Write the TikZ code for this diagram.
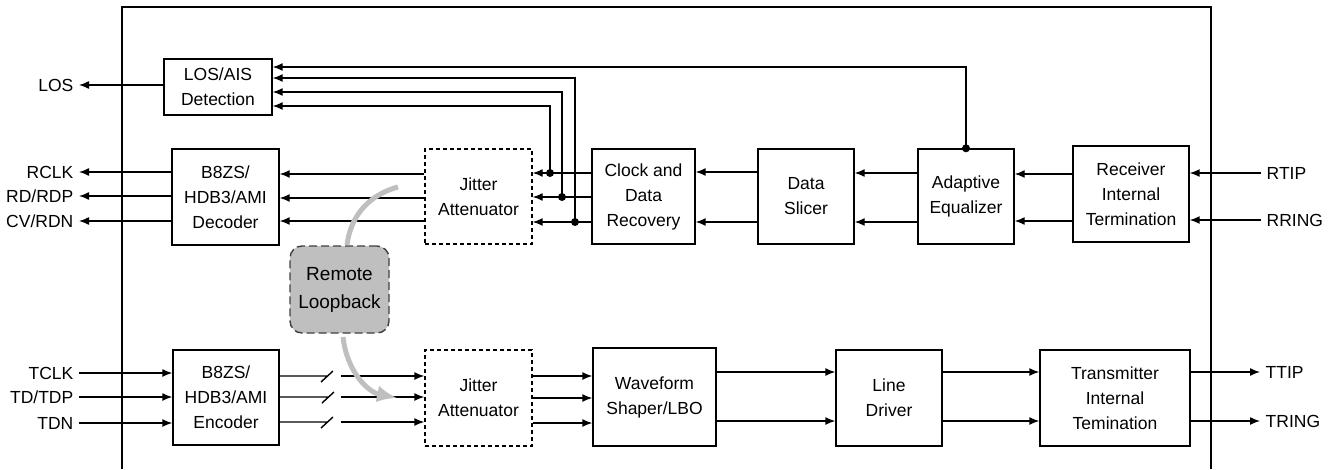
\documentclass[tikz,border=0pt]{standalone}
\usepackage{fontspec}
\setmainfont{Liberation Sans}
\usetikzlibrary{arrows.meta, calc}
\tikzset{sigarrow/.style = {-{Latex[length=10pt,width=8pt]}}}

\begin{document}
\begin{tikzpicture}[
    x=1pt, y=-1pt,
    font=\fontsize{17.5pt}{25pt}\selectfont,
    line width=1.4pt,
    block/.style = {draw, align=center, inner sep=0pt},
    jitter/.style = {block, dash pattern=on 4pt off 3pt},
    pin/.style = {inner sep=5pt, text height=12.5pt, text depth=0pt},
    loopback/.style = {draw=gray!50, line width=5pt}]
    \useasboundingbox (0,0) rectangle (1332,469);
    % chip outline
    \draw (122,469) -- (122,7) -- (1211,7) -- (1211,469);

    % receive path
    \node[block, minimum width=108pt, minimum height=56pt] (los) at (218,87) {LOS/AIS\\Detection};
    \node[block, minimum width=107pt, minimum height=96pt] (dec) at (225.5,197) {B8ZS/\\HDB3/AMI\\Decoder};
    \node[jitter, minimum width=107pt, minimum height=95pt] (rxja) at (478.5,196.5) {Jitter\\Attenuator};
    \node[block, minimum width=103pt, minimum height=95pt] (cdr) at (643.5,196.5) {Clock and\\Data\\Recovery};
    \node[block, minimum width=96pt, minimum height=95pt] (slicer) at (806,196.5) {Data\\Slicer};
    \node[block, minimum width=96pt, minimum height=95pt] (eq) at (966,196.5) {Adaptive\\Equalizer};
    \node[block, minimum width=116pt, minimum height=96pt] (rxterm) at (1131,194) {Receiver\\Internal\\Termination};

    % transmit path
    \node[block, minimum width=106pt, minimum height=95pt] (enc) at (226,397.5) {B8ZS/\\HDB3/AMI\\Encoder};
    \node[jitter, minimum width=107pt, minimum height=96pt] (txja) at (478.5,398) {Jitter\\Attenuator};
    \node[block, minimum width=123pt, minimum height=98pt] (wave) at (654.5,397) {Waveform\\Shaper/LBO};
    \node[block, minimum width=106pt, minimum height=96pt] (ldrv) at (889,398) {Line\\Driver};
    \node[block, minimum width=150pt, minimum height=96pt] (txterm) at (1115,398) {Transmitter\\Internal\\Temination};

    \node[draw=black!75, fill=gray!50, dash pattern=on 8pt off 4pt, rounded corners=12pt,
          font=\fontsize{19pt}{28pt}\selectfont,
          align=center, minimum width=99pt, minimum height=87pt] (remote) at (339.5,289.5) {Remote\\Loopback};

    % pins
    \node[pin, anchor=east] (LOSpin) at (79,85) {LOS};
    \node[pin, anchor=east] (RCLKpin) at (79,172) {RCLK};
    \node[pin, anchor=east] (RDpin) at (79,196) {RD/RDP};
    \node[pin, anchor=east] (CVpin) at (79,221) {CV/RDN};
    \node[pin, anchor=east] (TCLKpin) at (79,373) {TCLK};
    \node[pin, anchor=east] (TDpin) at (79,397) {TD/TDP};
    \node[pin, anchor=east] (TDNpin) at (79,423) {TDN};
    \node[pin, anchor=west] (RTIPpin) at (1261,173) {RTIP};
    \node[pin, anchor=west] (RRINGpin) at (1261,220) {RRING};
    \node[pin, anchor=west] (TTIPpin) at (1260,372) {TTIP};
    \node[pin, anchor=west] (TRINGpin) at (1260,421) {TRING};

    \coordinate (j1) at (550,173);
    \coordinate (j2) at (562,197);
    \coordinate (j3) at (575,222);

    \draw[sigarrow] (RTIPpin) -- (RTIPpin -| rxterm.east);
    \draw[sigarrow] (RRINGpin) -- (RRINGpin -| rxterm.east);
    \draw[sigarrow] (rxterm.west |- 0,174) -- (eq.east |- 0,174);
    \draw[sigarrow] (rxterm.west |- 0,221) -- (eq.east |- 0,221);
    \draw[sigarrow] (eq.west |- 0,173) -- (slicer.east |- 0,173);
    \draw[sigarrow] (eq.west |- 0,222) -- (slicer.east |- 0,222);
    \draw[sigarrow] (slicer.west |- 0,172) -- (cdr.east |- 0,172);
    \draw[sigarrow] (slicer.west |- 0,222) -- (cdr.east |- 0,222);
    \draw[sigarrow] (cdr.west |- j1) -- (rxja.east |- j1);
    \draw[sigarrow] (cdr.west |- j2) -- (rxja.east |- j2);
    \draw[sigarrow] (cdr.west |- j3) -- (rxja.east |- j3);
    \draw[sigarrow] (rxja.west |- 0,174) -- (dec.east |- 0,174);
    \draw[sigarrow] (rxja.west |- 0,198) -- (dec.east |- 0,198);
    \draw[sigarrow] (rxja.west |- 0,221) -- (dec.east |- 0,221);
    \draw[sigarrow] (dec.west |- RCLKpin) -- (RCLKpin);
    \draw[sigarrow] (dec.west |- RDpin) -- (RDpin);
    \draw[sigarrow] (dec.west |- CVpin) -- (CVpin);
    \draw[sigarrow] (los.west |- LOSpin) -- (LOSpin);

    % status lines to LOS/AIS
    \draw[sigarrow] (eq.north) |- (los.east |- 0,67);
    \draw[sigarrow] (j3) |- (los.east |- 0,78);
    \draw[sigarrow] (j2) |- (los.east |- 0,92);
    \draw[sigarrow] (j1) |- (los.east |- 0,106);
    \fill (eq.north) circle (4);
    \fill (j1) circle (4);
    \fill (j2) circle (4);
    \fill (j3) circle (4);

    \draw[sigarrow] (TCLKpin) -- (TCLKpin -| enc.west);
    \draw[sigarrow] (TDpin) -- (TDpin -| enc.west);
    \draw[sigarrow] (TDNpin) -- (TDNpin -| enc.west);

    % open switches
    \coordinate (s1) at (327,376);
    \coordinate (s2) at (328,397);
    \coordinate (s3) at (327,422);
    \draw (enc.east |- s1) -- (s1) ++(-6,6) -- ++(12,-11);
    \draw (enc.east |- s2) -- (s2) ++(-6,6) -- ++(12,-11);
    \draw (enc.east |- s3) -- (s3) ++(-6,6) -- ++(12,-11);
    \draw[sigarrow] ($(s1)+(14,0)$) -- (txja.west |- s1);
    \draw[sigarrow] ($(s2)+(13,0)$) -- (txja.west |- s2);
    \draw[sigarrow] ($(s3)+(14,0)$) -- (txja.west |- s3);

    \draw[sigarrow] (txja.east |- 0,376) -- (wave.west |- 0,376);
    \draw[sigarrow] (txja.east |- 0,398) -- (wave.west |- 0,398);
    \draw[sigarrow] (txja.east |- 0,423) -- (wave.west |- 0,423);
    \draw[sigarrow] (wave.east |- 0,372) -- (ldrv.west |- 0,372);
    \draw[sigarrow] (wave.east |- 0,421) -- (ldrv.west |- 0,421);
    \draw[sigarrow] (ldrv.east |- 0,372) -- (txterm.west |- 0,372);
    \draw[sigarrow] (ldrv.east |- 0,421) -- (txterm.west |- 0,421);
    \draw[sigarrow] (txterm.east |- TTIPpin) -- (TTIPpin);
    \draw[sigarrow] (txterm.east |- TRINGpin) -- (TRINGpin);

    % loopback path
    \coordinate (lbA) at (398,187);
    \coordinate (lbB) at (347,245);
    \coordinate (lbC) at (343,337);
    \coordinate (lbD) at (397,398);
    \draw[loopback] (lbA) .. controls (365,196) and (350,220) .. (lbB);
    \draw[loopback, -{Latex[length=20pt,width=17pt]}] (lbC) .. controls (347,372) and (368,392) .. (lbD);
\end{tikzpicture}
\end{document}
